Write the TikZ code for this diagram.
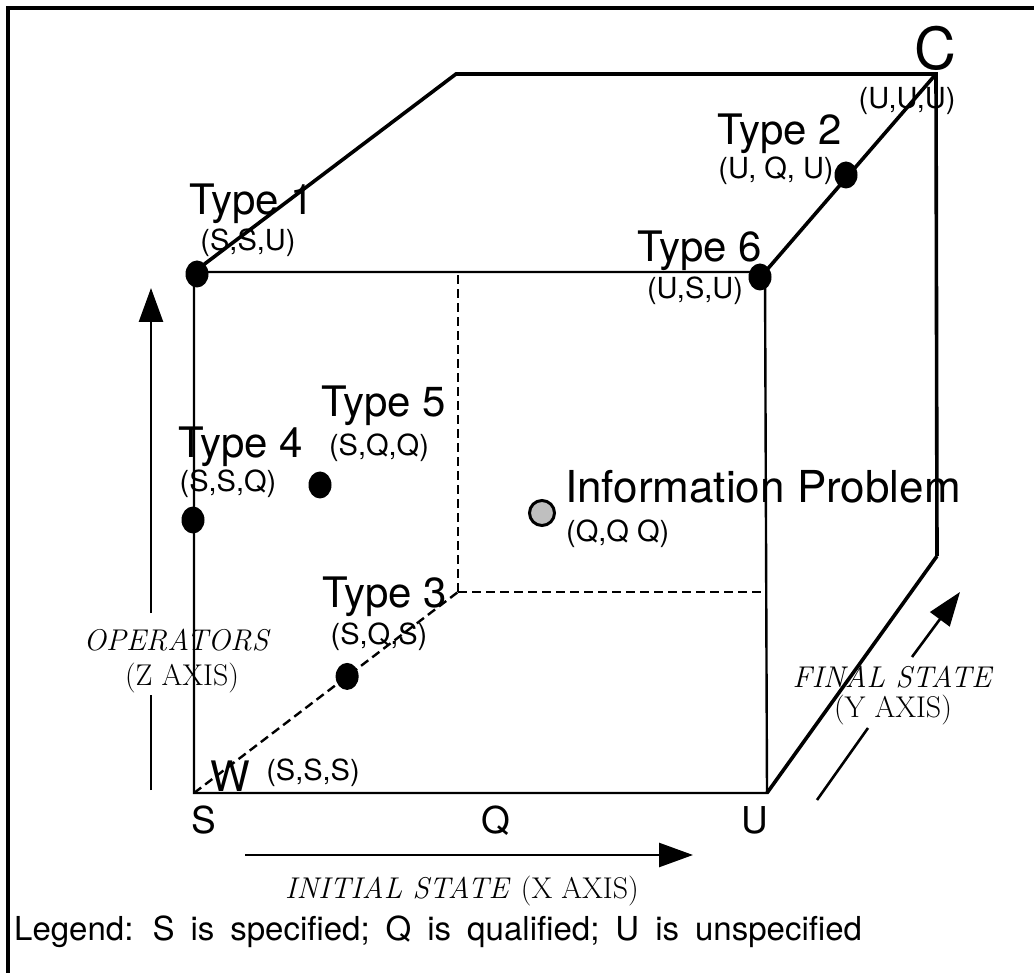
\documentclass[tikz,border=0pt]{standalone}
\usepackage{fontspec}
\setsansfont{TeX Gyre Heros}
\renewcommand{\familydefault}{\sfdefault}
\usetikzlibrary{arrows.meta,calc,shapes.geometric}
\begin{document}
\begin{tikzpicture}[x=1pt,y=-1pt,
  edge/.style={line width=2.4pt},
  backedge/.style={line width=3.6pt},
  hidden/.style={line width=2.4pt, dash pattern=on 9pt off 5pt},
  dotmark/.style={ellipse, fill=black, inner sep=0pt, minimum width=23pt, minimum height=27pt},
  infomark/.style={circle, draw=black, line width=3pt, fill=black!25, inner sep=0pt, minimum size=25pt},
  biglabel/.style={inner sep=0pt, anchor=base, font=\fontsize{42}{44}\selectfont},
  smalllabel/.style={inner sep=0pt, anchor=base, font=\fontsize{29}{31}\selectfont},
  cornerlabel/.style={inner sep=0pt, anchor=base, font=\fontsize{37}{39}\selectfont},
  axislabel/.style={inner sep=0pt, anchor=base, font=\rmfamily\fontsize{30}{32}\selectfont},
  axisline/.style={line width=2.6pt},
  axisarrow/.style={line width=2.6pt, -{Triangle[length=34pt,width=24pt]}},
  frameline/.style={line width=4pt}]
\useasboundingbox (0,0) rectangle (1034,973);

% page frame (left and top rules)
\coordinate (fr-b) at (8,973);
\coordinate (fr-c) at (8,8);
\coordinate (fr-r) at (1034,8);
\draw[frameline] (fr-b) -- (fr-c) -- (fr-r);

% cube corners
\coordinate (f-tl) at (194,272);
\coordinate (f-tr) at (765,272);
\coordinate (f-bl) at (194,793);
\coordinate (f-br) at (767,793);
\coordinate (b-tl) at (456,74);
\coordinate (b-tr) at (936,74);
\coordinate (b-br) at (937,556);
\coordinate (h) at (458,592);

% visible edges
\draw[backedge] (f-tl) -- (b-tl) -- (b-tr) -- (b-br);
\draw[backedge] (f-tr) -- (b-tr);
\draw[backedge] (f-br) -- (b-br);
\draw[edge] (f-tl) -- (f-tr) -- (f-br) -- (f-bl) -- cycle;

% hidden edges
\draw[hidden] (f-bl) -- (h);
\draw[hidden] (h) -- (h |- f-tl);
\draw[hidden] (h) -- (h -| f-br);

% points
\node[dotmark] (p1) at (197,274) {};
\node[dotmark] (p6) at (760,277) {};
\node[dotmark] (p2) at (846,175) {};
\node[dotmark] (p4) at (193,520) {};
\node[dotmark] (p5) at (320,485) {};
\node[dotmark] (p3) at ($(f-bl)!0.58!(h)$) {};
\node[infomark] (pi) at (542,513) {};

% labels
\node[biglabel, font=\fontsize{58}{60}\selectfont] (lc) at (935,70) {C};
\node[smalllabel] (lc2) at (907,109) {(U,U,U)};
\node[biglabel] (l2) at (780,145) {Type 2};
\node[smalllabel] (l2b) at (776,179) {(U, Q, U)};
\node[biglabel] (l1) at (252,215) {Type 1};
\node[smalllabel] (l1b) at (248,251) {(S,S,U)};
\node[biglabel] (l6) at (700,262) {Type 6};
\node[smalllabel] (l6b) at (695,299) {(U,S,U)};
\node[biglabel] (l5) at (384,417) {Type 5};
\node[smalllabel] (l5b) at (379,456) {(S,Q,Q)};
\node[biglabel] (l4) at (241,458) {Type 4};
\node[smalllabel] (l4b) at (228,492) {(S,S,Q)};
\node[biglabel, anchor=base west, font=\fontsize{44}{46}\selectfont] (li) at (565,503) {Information Problem};
\node[smalllabel, anchor=base west] (lib) at (566,541) {(Q,Q Q)};
\node[biglabel] (l3) at (385,607) {Type 3};
\node[smalllabel] (l3b) at (379,644) {(S,Q,S)};
\node[biglabel] (lw) at (230,791) {W};
\node[smalllabel] (lwb) at (313,780) {(S,S,S)};
\node[cornerlabel] (ls) at (204,833) {S};
\node[cornerlabel] (lq) at (496,833) {Q};
\node[cornerlabel] (lu) at (755,833) {U};

% axes
\coordinate (z-a) at (151,790);
\coordinate (z-b) at (151,695);
\coordinate (z-c) at (151,613);
\coordinate (z-d) at (151,288);
\draw[axisline] (z-a) -- (z-b);
\draw[axisarrow] (z-c) -- (z-d);
\node[axislabel] (zl1) at (176,650) {\itshape OPERATORS};
\node[axislabel] (zl2) at (182,685) {(Z AXIS)};

\coordinate (x-a) at (245,855);
\coordinate (x-b) at (693,855);
\draw[axisarrow] (x-a) -- (x-b);
\node[axislabel] (xl) at (462,898) {\itshape INITIAL STATE\/ \upshape (X AXIS)};

\coordinate (y-a) at (817,800);
\coordinate (y-b) at (868,728);
\coordinate (y-c) at (912,657);
\coordinate (y-d) at (960,592);
\draw[axisline] (y-a) -- (y-b);
\draw[axisarrow] (y-c) -- (y-d);
\node[axislabel] (yl1) at (892,687) {\itshape FINAL STATE};
\node[axislabel] (yl2) at (893,717) {(Y AXIS)};

% legend
\node[smalllabel, anchor=base west, font=\fontsize{33}{35}\selectfont] (leg) at (14,940)
  {\spaceskip=16pt\relax Legend: S is specified; Q is qualified; U is unspecified};
\end{tikzpicture}
\end{document}
